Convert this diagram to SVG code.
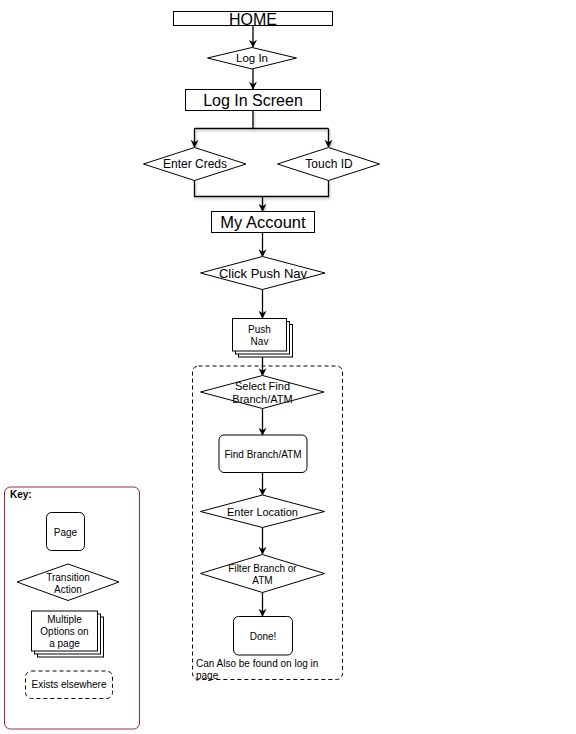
<svg xmlns="http://www.w3.org/2000/svg" width="576" height="734" viewBox="0 0 576 734">
<defs>
<marker id="arr" viewBox="0 0 10 10" refX="9" refY="5" markerWidth="8" markerHeight="8" markerUnits="userSpaceOnUse" orient="auto">
<path d="M0,0 L10,5 L0,10 L3,5 z" fill="#000"/>
</marker>
<filter id="sh" x="-10%" y="-10%" width="130%" height="140%">
<feDropShadow dx="1" dy="2" stdDeviation="1" flood-color="#000" flood-opacity="0.25"/>
</filter>
</defs>
<style>
.n{fill:#fff;stroke:#000;stroke-width:1}
.t{font-family:"Liberation Sans",Arial,sans-serif;fill:#000;text-anchor:middle}
.c{fill:none;stroke:#000;stroke-width:1.3}
.d{fill:none;stroke:#000;stroke-width:1;stroke-dasharray:4 3}
</style>
<rect width="576" height="734" fill="#fff"/>

<g id="connectors">
<path class="c" d="M253,25 V47" marker-end="url(#arr)"/>
<path class="c" d="M253,69 V89" marker-end="url(#arr)"/>
<g filter="url(#sh)">
<path class="c" d="M253,110 V128.5 M194.5,128.5 H328.5"/>
<path class="c" d="M194.5,128.5 V147" marker-end="url(#arr)"/>
<path class="c" d="M328.5,128.5 V147" marker-end="url(#arr)"/>
<path class="c" d="M194.5,180 V196.5 H328.5 V180"/>
<path class="c" d="M262.5,196.5 V211" marker-end="url(#arr)"/>
</g>
<path class="c" d="M262.5,232 V256.5" marker-end="url(#arr)"/>
<path class="c" d="M262.5,289 V318" marker-end="url(#arr)"/>
<path class="c" d="M262.5,357 V375.5" marker-end="url(#arr)"/>
<path class="c" d="M262.5,408 V435" marker-end="url(#arr)"/>
<path class="c" d="M262.5,472 V495" marker-end="url(#arr)"/>
<path class="c" d="M262.5,527.5 V554" marker-end="url(#arr)"/>
<path class="c" d="M262.5,592.5 V616" marker-end="url(#arr)"/>
</g>

<g id="container">
<rect class="d" x="192.5" y="366" width="150" height="313.5" rx="6"/>
<text class="t" style="text-anchor:start" font-size="10" x="196" y="667">Can Also be found on log in</text>
<text class="t" style="text-anchor:start" font-size="10" x="196" y="679">page</text>
</g>

<g id="home">
<rect class="n" x="173.5" y="11.5" width="159" height="14"/>
<text class="t" font-size="16" x="253" y="25">HOME</text>
</g>
<g id="login">
<polygon class="n" points="207.5,58 252,47.5 296.5,58 252,69"/>
<text class="t" font-size="11.5" x="252" y="62">Log In</text>
</g>
<g id="loginscreen">
<rect class="n" x="185.5" y="89.5" width="135" height="21"/>
<text class="t" font-size="16" x="253" y="106">Log In Screen</text>
</g>
<g id="entercreds">
<polygon class="n" points="143.5,164 194.5,147.5 246,164 194.5,180.5"/>
<text class="t" font-size="12" x="195" y="168">Enter Creds</text>
</g>
<g id="touchid">
<polygon class="n" points="277.5,164 328.5,147.5 379.5,164 328.5,180.5"/>
<text class="t" font-size="12" x="329" y="168">Touch ID</text>
</g>
<g id="myaccount">
<rect class="n" x="211.5" y="211.5" width="103" height="21"/>
<text class="t" font-size="16.5" x="263" y="228">My Account</text>
</g>
<g id="clickpushnav">
<polygon class="n" points="200.5,273 262.5,256.5 325,273 262.5,289.5"/>
<text class="t" font-size="13" x="263" y="277.5">Click Push Nav</text>
</g>
<g id="pushnav">
<rect class="n" x="238.5" y="324.5" width="54" height="32.5"/>
<rect class="n" x="235.5" y="321.5" width="54" height="32.5"/>
<rect class="n" x="232.5" y="318.5" width="54" height="32.5"/>
<text class="t" font-size="10" x="259.5" y="333">Push</text>
<text class="t" font-size="10" x="259.5" y="345">Nav</text>
</g>
<g id="selectfind">
<polygon class="n" points="200.5,392 262.5,375.5 324,392 262.5,408.5"/>
<text class="t" font-size="11" x="262.5" y="390">Select Find</text>
<text class="t" font-size="11" x="262.5" y="403">Branch/ATM</text>
</g>
<g id="findbranch">
<rect class="n" x="219" y="435" width="88" height="37.5" rx="5"/>
<text class="t" font-size="10" x="263" y="458">Find Branch/ATM</text>
</g>
<g id="enterlocation">
<polygon class="n" points="200.5,511.5 262.5,495 324.5,511.5 262.5,527.5"/>
<text class="t" font-size="11" x="262.5" y="515.5">Enter Location</text>
</g>
<g id="filter">
<polygon class="n" points="200.5,573.5 262.5,554.5 324.5,573.5 262.5,592.5"/>
<text class="t" font-size="10" x="262.5" y="572">Filter Branch or</text>
<text class="t" font-size="10" x="262.5" y="584">ATM</text>
</g>
<g id="done">
<rect class="n" x="233.5" y="616.5" width="59" height="38.5" rx="5"/>
<text class="t" font-size="10" x="263" y="640">Done!</text>
</g>

<g id="key">
<rect x="4.5" y="487" width="135" height="242" rx="6" fill="#fff" stroke="#9b2d3a" stroke-width="1"/>
<text class="t" style="text-anchor:start" font-size="10" font-weight="bold" x="10" y="498">Key:</text>
<rect class="n" x="46.5" y="512.5" width="38" height="38" rx="5"/>
<text class="t" font-size="10" x="65.5" y="536">Page</text>
<polygon class="n" points="17,582 68,564 119,582 68,600.5"/>
<text class="t" font-size="10" x="68" y="581">Transition</text>
<text class="t" font-size="10" x="68" y="593">Action</text>
<rect class="n" x="37.5" y="617" width="66" height="40"/>
<rect class="n" x="34.5" y="614" width="66" height="40"/>
<rect class="n" x="31.5" y="611" width="66" height="40"/>
<text class="t" font-size="10" x="64.5" y="623">Multiple</text>
<text class="t" font-size="10" x="64.5" y="635">Options on</text>
<text class="t" font-size="10" x="64.5" y="647">a page</text>
<rect class="d" x="25.5" y="671" width="87" height="27.5" rx="6"/>
<text class="t" font-size="10" x="69" y="688">Exists elsewhere</text>
</g>
</svg>
